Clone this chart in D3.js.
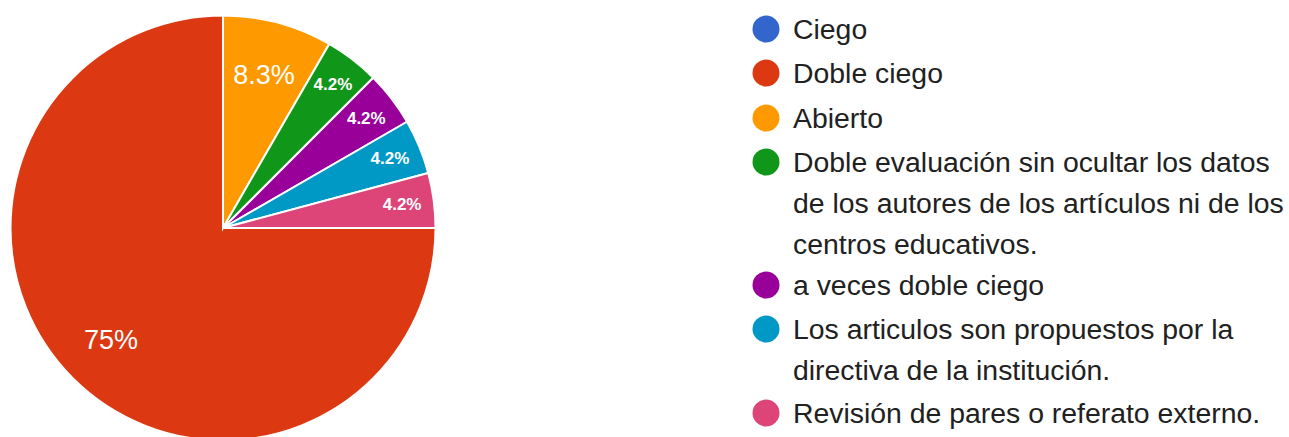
<!DOCTYPE html>
<html><head><meta charset="utf-8">
<script src="https://cdn.jsdelivr.net/npm/d3@7"></script>
<style>body{margin:0;background:#fff;}svg{display:block;}</style>
</head><body>
<svg id="c" width="1289" height="437"></svg>
<script>
const categories = ["Ciego","Doble ciego","Abierto","Doble evaluación sin ocultar los datos de los autores de los artículos ni de los centros educativos.","a veces doble ciego","Los articulos son propuestos por la directiva de la institución.","Revisión de pares o referato externo."];
const legendLines = [["Ciego"],["Doble ciego"],["Abierto"],["Doble evaluación sin ocultar los datos","de los autores de los artículos ni de los","centros educativos."],["a veces doble ciego"],["Los articulos son propuestos por la","directiva de la institución."],["Revisión de pares o referato externo."]];
const counts = [0,18,2,1,1,1,1];
const colors = ["#3366cc","#dc3912","#ff9900","#109618","#990099","#0099c6","#dd4477"];

const svg = d3.select("#c");
const cx = 223, cy = 228, R = 212.5;
const total = d3.sum(counts);
const pie = d3.pie().sort(null).value(d=>d).startAngle(Math.PI/2).endAngle(Math.PI/2+2*Math.PI);
const arcs = pie(counts);
const arc = d3.arc().innerRadius(0).outerRadius(R);
const g = svg.append("g").attr("transform",`translate(${cx},${cy})`);
g.selectAll("path").data(arcs.filter(a=>a.data>0)).join("path")
  .attr("d",arc).attr("fill",a=>colors[a.index]).attr("stroke","#fff").attr("stroke-width",2);
g.selectAll("text").data(arcs.filter(a=>a.data>0)).join("text")
  .each(function(a){
    const frac = a.data/total;
    const big = frac>0.05;
    const r = big ? 0.745*R : 0.85*R;
    const m = (a.startAngle+a.endAngle)/2;
    const t = d3.select(this);
    t.attr("x", Math.sin(m)*r).attr("y", -Math.cos(m)*r)
     .attr("text-anchor","middle").attr("dominant-baseline","central")
     .attr("fill","#fff").attr("font-family","Liberation Sans, Arial, sans-serif")
     .attr("font-size", big?27:17).attr("font-weight", big?"normal":"bold")
     .text((Math.round(frac*1000)/10).toString().replace(/\.0$/,"")+"%");
  });

const itemY = [29,73,118,162,285,329,413];
const lineH = 41;
const lg = svg.append("g");
legendLines.forEach((lines,i)=>{
  lg.append("circle").attr("cx",766).attr("cy",itemY[i]).attr("r",13.5).attr("fill",colors[i]);
  lines.forEach((ln,j)=>{
    lg.append("text").attr("x",793).attr("y",itemY[i]+j*lineH).attr("dominant-baseline","central")
      .attr("font-family","Liberation Sans, Arial, sans-serif").attr("font-size",28.4).attr("fill","#212121")
      .text(ln);
  });
});
</script>
</body></html>
